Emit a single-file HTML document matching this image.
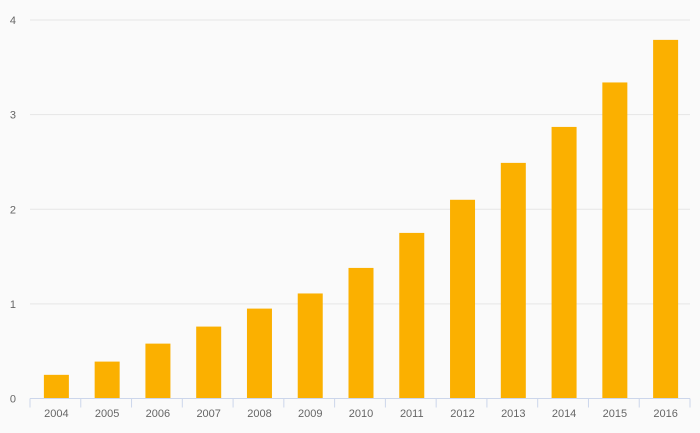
<!DOCTYPE html>
<html><head><meta charset="utf-8"><style>
html,body{margin:0;padding:0;background:#fafafa;}
svg{display:block;font-family:"Liberation Sans",sans-serif;}
</style></head><body>
<svg id="chart" width="700" height="433"></svg>
<script>
const categories=["2004","2005","2006","2007","2008","2009","2010","2011","2012","2013","2014","2015","2016"];
const values=[0.25,0.39,0.58,0.76,0.95,1.11,1.38,1.75,2.1,2.49,2.87,3.34,3.79];
const yTicks=[0,1,2,3,4];
const svg=document.getElementById('chart');
const NS='http://www.w3.org/2000/svg';
const x0=30,x1=690,y0=398.5,y1=20,yMax=4;
const band=(x1-x0)/categories.length;
const y=v=>y0-(v/yMax)*(y0-y1);
const xc=i=>x0+band*(i+0.5);
function mk(t,a){const e=document.createElementNS(NS,t);for(const k in a)e.setAttribute(k,a[k]);svg.appendChild(e);return e;}
yTicks.forEach(t=>{
  if(t>0){const g=mk('line',{x1:x0,x2:x1,y1:y(t),y2:y(t),stroke:'#e6e6e6','stroke-width':1});
  
  }
  const l=mk('text',{x:16,y:y(t)+4,'text-anchor':'end','font-size':11,fill:'#666'});
  l.textContent=t;
  
  
});
values.forEach((v,i)=>{
  const r=mk('rect',{x:xc(i)-11.5,y:y(v),width:25,height:y0-y(v),fill:'#fbb000'});
  
  
});
const ax=mk('line',{x1:x0,x2:x1,y1:y0,y2:y0,stroke:'#ccd6eb','stroke-width':1});


for(let i=0;i<=categories.length;i++){
  const tk=mk('line',{x1:x0+band*i,x2:x0+band*i,y1:y0,y2:y0+9,stroke:'#ccd6eb','stroke-width':1});
  
  
}
categories.forEach((c,i)=>{
  const t=mk('text',{x:xc(i)+1,y:417,'text-anchor':'middle','font-size':11,fill:'#666'});
  t.textContent=c;
  
  
});
</script>
</body></html>
